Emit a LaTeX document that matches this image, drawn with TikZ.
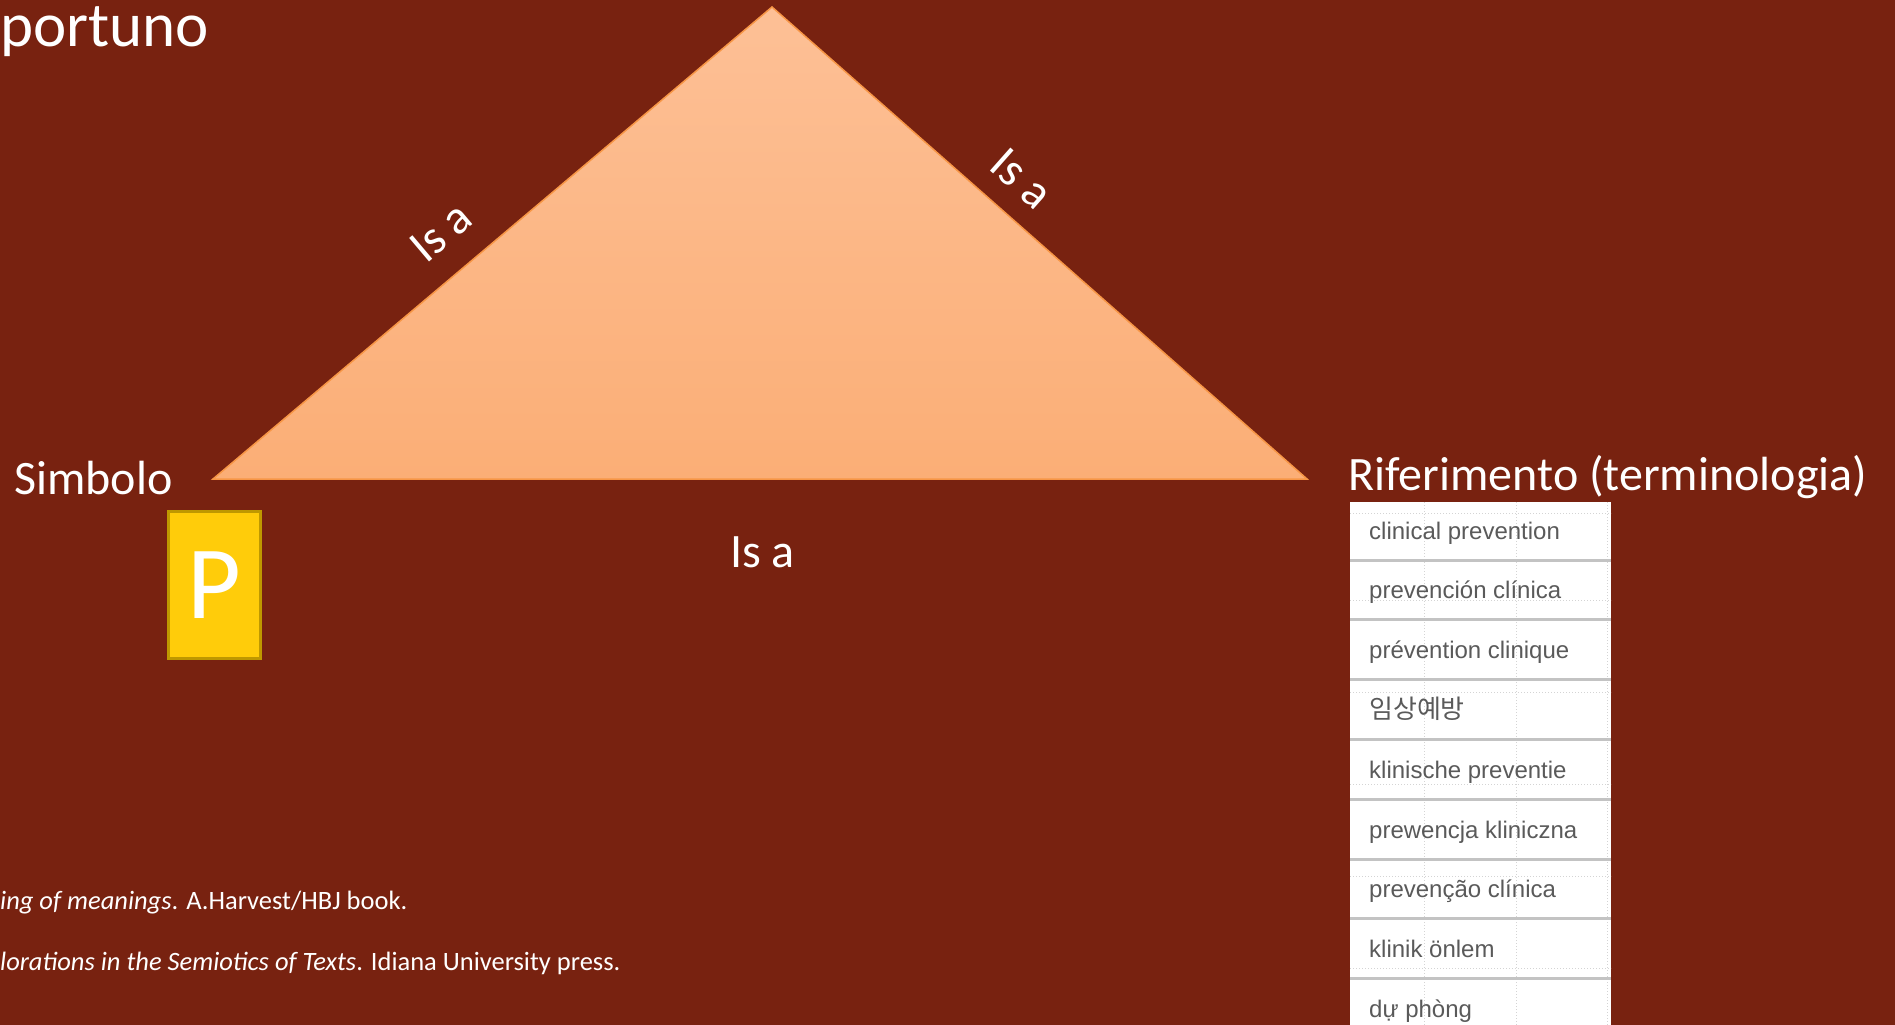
\documentclass[tikz,border=0pt]{standalone}
\usepackage{fontspec}
\setmainfont{Carlito}
\newfontfamily\listfont{Liberation Sans}
\newfontfamily\kofont{Noto Sans CJK KR}
\definecolor{slidebg}{RGB}{120,34,16}
\definecolor{triline}{RGB}{247,150,70}
\definecolor{tritop}{RGB}{253,192,150}
\definecolor{tribot}{RGB}{251,174,118}
\definecolor{pfill}{RGB}{255,204,10}
\definecolor{pline}{RGB}{190,152,0}
\definecolor{termtext}{RGB}{90,90,90}
\definecolor{termsep}{RGB}{195,195,195}
\definecolor{termgrid}{RGB}{212,212,212}
\tikzset{
  bigtext/.style={text=white, inner sep=0pt, font=\fontsize{48}{57}\selectfont},
  reftext/.style={text=white, inner sep=0pt, anchor=base west, font=\fontsize{26.5}{31}\selectfont},
  termtext/.style={text=termtext, inner sep=0pt, anchor=base west, font=\listfont\fontsize{24}{29}\selectfont}
}
\begin{document}
\begin{tikzpicture}[x=1pt,y=-1pt]
  \useasboundingbox (0,0) rectangle (1895,1025);
  \fill[slidebg] (0,0) rectangle (1895,1025);
  % title, cut at the left edge
  \node[text=white, inner sep=0pt, anchor=base west, font=\fontsize{63}{72}\selectfont] (title) at (0,47) {portuno};
  % triangle
  \coordinate (apex) at (772,7);
  \coordinate (symb) at (213,479);
  \coordinate (ref) at (1307,479);
  \path[draw=triline, line width=1.5pt, top color=tritop, bottom color=tribot] (apex) -- (symb) -- (ref) -- cycle;
  \node[bigtext, rotate=40.2] (isaleft) at (441,232) {Is a};
  \node[bigtext, rotate=-41.5] (isaright) at (1022,179) {Is a};
  \node[bigtext, anchor=base west] (isabottom) at (730,567) {Is a};
  % symbol
  \node[bigtext, anchor=base west] (simbolo) at (14,494) {Simbolo};
  \node[draw=pline, line width=3pt, fill=pfill, text=white, minimum width=92pt, minimum height=147pt,
    inner sep=0pt, font=\fontsize{104}{110}\selectfont] (pbox) at (214.5,585) {P};
  % reference and terminology list
  \node[bigtext, anchor=base west] (riferimento) at (1348,490) {Riferimento (terminologia)};
  \fill[white] (1350,502) rectangle (1611,1025);
  \begin{scope}[termgrid, dotted, line width=1pt]
    \foreach \gx in {1424,1516,1607}
      \draw (\gx,502) -- (\gx,1025);
    \foreach \gy in {513,600,692,784,876,968}
      \draw (1350,\gy) -- (1611,\gy);
  \end{scope}
  \foreach \sy in {0,...,7}
    \draw[termsep, line width=3pt] (1350,560+\sy*59.8) -- (1611,560+\sy*59.8);
  \foreach \term [count=\i] in {clinical prevention, prevención clínica, prévention clinique,
      {\kofont\fontsize{26}{30}\selectfont 임상예방}, klinische preventie, prewencja kliniczna, prevenção clínica,
      klinik önlem, dự phòng}
    \node[termtext] (term\i) at (1369,539+\i*59.8-59.8) {\term};
  % references
  \node[reftext] (ref1) at (0,909) {{\itshape ing of meanings}. A.Harvest/HBJ book.};
  \node[reftext] (ref2) at (0,970) {{\itshape lorations in the Semiotics of Texts}. Idiana University press.};
\end{tikzpicture}
\end{document}
